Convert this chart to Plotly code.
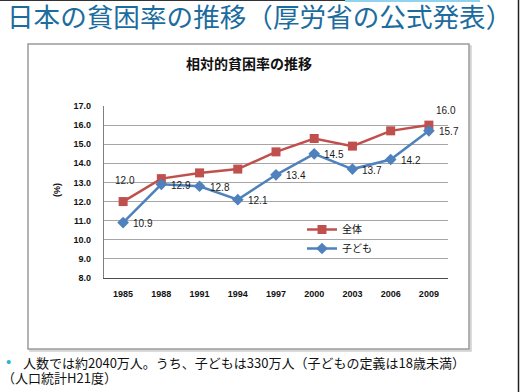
import plotly.graph_objects as go

years = ["1985", "1988", "1991", "1994", "1997", "2000", "2003", "2006", "2009"]
overall = [12.0, 13.2, 13.5, 13.7, 14.6, 15.3, 14.9, 15.7, 16.0]
children = [10.9, 12.9, 12.8, 12.1, 13.4, 14.5, 13.7, 14.2, 15.7]
y_ticks = [8.0, 9.0, 10.0, 11.0, 12.0, 13.0, 14.0, 15.0, 16.0, 17.0]

W, H = 520, 392
PL, PR, PT, PB = 104, 448, 106, 278  # plot area in pixels


def px(x):
    return (x - PL) / (PR - PL)


def py(y):
    return (PB - y) / (PB - PT)


RED = "#C0504D"
BLUE = "#4F81BD"
JP = "Noto Sans CJK JP"
LAT = "Liberation Sans, Arial, sans-serif"

fig = go.Figure()
fig.add_trace(go.Scatter(
    x=years, y=overall, name="全体", mode="lines+markers",
    line=dict(color=RED, width=2.5),
    marker=dict(symbol="square", size=9, color=RED),
))
fig.add_trace(go.Scatter(
    x=years, y=children, name="子ども", mode="lines+markers",
    line=dict(color=BLUE, width=2.5),
    marker=dict(symbol="diamond", size=9, color=BLUE),
))

LBL = dict(family=LAT, size=10, color="#1a1a1a")
annotations = []
# data labels (x given as category index)
for i, v in enumerate(children):
    annotations.append(dict(x=i, y=v, xref="x", yref="y", text=f"{v:.1f}",
                            showarrow=False, xanchor="left", xshift=8, yshift=-1, font=LBL))
annotations.append(dict(x=0, y=overall[0], xref="x", yref="y", text=f"{overall[0]:.1f}",
                        showarrow=False, xanchor="center", xshift=2, yshift=21, font=LBL))
n = len(overall) - 1
annotations.append(dict(x=n, y=overall[n], xref="x", yref="y", text=f"{overall[n]:.1f}",
                        showarrow=False, xanchor="center", xshift=17, yshift=15, font=LBL))

# slide title
annotations.append(dict(x=px(259), y=py(15), xref="paper", yref="paper",
                        text="日本の貧困率の推移（厚労省の公式発表）", showarrow=False,
                        xanchor="center", yanchor="middle", height=30,
                        font=dict(family=JP, size=26.6, color="#1C6C9E")))
# chart title
annotations.append(dict(x=px(249), y=py(63), xref="paper", yref="paper",
                        text="<b>相対的貧困率の推移</b>", showarrow=False,
                        xanchor="center", yanchor="middle",
                        font=dict(family=JP, size=14, color="#111111")))
# y axis title
annotations.append(dict(x=px(57), y=py(190), xref="paper", yref="paper",
                        text="<b>(%)</b>", showarrow=False, textangle=-90,
                        xanchor="center", yanchor="middle",
                        font=dict(family=LAT, size=9, color="#111111")))
# bottom text
annotations.append(dict(x=px(8), y=py(361), xref="paper", yref="paper",
                        text="•", showarrow=False, xanchor="center", yanchor="middle",
                        height=14,
                        font=dict(family=LAT, size=15, color="#2BB5D6")))
annotations.append(dict(x=px(21), y=py(362), xref="paper", yref="paper",
                        text="人数では約2040万人。うち、子どもは330万人（子どもの定義は18歳未満）",
                        showarrow=False, xanchor="left", yanchor="middle", height=15,
                        font=dict(family=JP, size=13, color="#111111")))
annotations.append(dict(x=px(0), y=py(377.5), xref="paper", yref="paper",
                        text="（人口統計H21度）", showarrow=False, xanchor="left",
                        yanchor="middle", height=15,
                        font=dict(family=JP, size=13, color="#111111")))

shapes = [
    # shadow
    dict(type="rect", xref="paper", yref="paper", x0=px(30), x1=px(471), y0=py(46), y1=py(351),
         line=dict(color="#d0d0d0", width=1.5), fillcolor="#e6e6e6", layer="below"),
    # chart box
    dict(type="rect", xref="paper", yref="paper", x0=px(28), x1=px(469), y0=py(44), y1=py(349),
         line=dict(color="#9a9a9a", width=1.5), fillcolor="white", layer="below"),
    # slide edges
    dict(type="line", xref="paper", yref="paper", x0=px(518.5), x1=px(518.5), y0=py(0), y1=py(392),
         line=dict(color="#222222", width=1.5), layer="above"),
    dict(type="line", xref="paper", yref="paper", x0=px(0), x1=px(345), y0=py(0.5), y1=py(0.5),
         line=dict(color="#333333", width=1), layer="above"),
    dict(type="line", xref="paper", yref="paper", x0=px(345), x1=px(480), y0=py(1), y1=py(1),
         line=dict(color="#8fd3ee", width=2), layer="above"),
]

fig.update_layout(
    width=W, height=H,
    margin=dict(l=PL, r=W - PR, t=PT, b=H - PB, pad=0),
    paper_bgcolor="white", plot_bgcolor="rgba(0,0,0,0)",
    showlegend=True,
    legend=dict(x=px(302), y=py(215), xanchor="left", yanchor="top",
                bgcolor="rgba(0,0,0,0)", font=dict(family=JP, size=10, color="#111111"),
                itemwidth=30, tracegroupgap=0),
    xaxis=dict(type="category", range=[-0.5, 8.5], showgrid=False, showline=True,
               linecolor="#4a4a4a", linewidth=1.2, ticks="", ticklabelstandoff=7,
               tickfont=dict(family=LAT, size=9, color="#111111", weight="bold"),
               zeroline=False, fixedrange=True),
    yaxis=dict(range=[8, 17], tickvals=y_ticks, tickformat=".1f", showgrid=True,
               gridcolor="#a6a6a6", gridwidth=1, showline=True, linecolor="#7f7f7f",
               linewidth=1.2, ticks="", ticklabelstandoff=10, zeroline=False,
               tickfont=dict(family=LAT, size=9, color="#111111", weight="bold"),
               fixedrange=True),
    annotations=annotations,
    shapes=shapes,
)

fig.write_html("out.html", config={"displayModeBar": False},
               post_script="document.body.style.margin='0px';")
